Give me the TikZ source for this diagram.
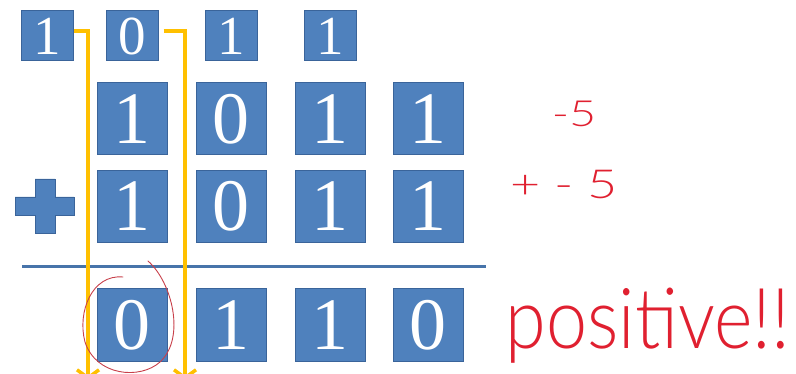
\documentclass[tikz,border=0pt]{standalone}
\usepackage{fontspec}
\setmainfont{Liberation Serif}
\newfontfamily\handfont{Lato Light}
\usetikzlibrary{arrows.meta}
\definecolor{bitblue}{HTML}{4F81BD}
\definecolor{bitedge}{HTML}{3A649A}
\definecolor{carry}{HTML}{FFC000}
\definecolor{ink}{HTML}{E02030}
\definecolor{circ}{HTML}{C8404A}
\tikzset{
  bit/.style={fill=bitblue, draw=bitedge, line width=1pt, text=white, inner sep=0pt,
    minimum width=70pt, minimum height=72pt, font=\fontsize{74}{74}\selectfont},
  smallbit/.style={bit, minimum width=52pt, minimum height=50pt, font=\fontsize{55}{55}\selectfont},
  carryline/.style={draw=carry, line width=3.5pt, -{Straight Barb[length=8pt,width=22pt]}},
  hand/.style={text=ink, font=\handfont\fontsize{36}{36}\selectfont, inner sep=0pt}
}
\begin{document}
\begin{tikzpicture}[x=1pt,y=-1pt]
\useasboundingbox (0,0) rectangle (796,374);
\clip (0,0) rectangle (796,374);
\fill[white] (0,0) rectangle (796,374);

% carry bits
\node[smallbit] (t1) at (47,36) {1};
\node[smallbit] (t2) at (132,36) {0};
\node[smallbit] (t3) at (231,36) {1};
\node[smallbit] (t4) at (330,36) {1};

% first operand
\node[bit] (a1) at (132,119) {1};
\node[bit] (a2) at (231,119) {0};
\node[bit] (a3) at (330,119) {1};
\node[bit] (a4) at (428,119) {1};

% second operand
\node[bit] (b1) at (132,206.5) {1};
\node[bit] (b2) at (231,206.5) {0};
\node[bit] (b3) at (330,206.5) {1};
\node[bit] (b4) at (428,206.5) {1};

% plus sign
\filldraw[fill=bitblue, draw=bitedge, line width=0.8pt]
  (35,179) -- (55,179) -- (55,197) -- (74,197) -- (74,215) -- (55,215) -- (55,233)
  -- (35,233) -- (35,215) -- (15,215) -- (15,197) -- (35,197) -- cycle;

% sum rule
\coordinate (rl) at (22,267);
\coordinate (rr) at (486,267);
\draw[draw=bitblue!90!black, line width=3pt] (rl) -- (rr);

% result
\node[bit, minimum height=73pt] (r1) at (132,325.5) {0};
\node[bit, minimum height=73pt] (r2) at (231,325.5) {1};
\node[bit, minimum height=73pt] (r3) at (330,325.5) {1};
\node[bit, minimum height=73pt] (r4) at (428,325.5) {0};

% carry paths out of the top column
\coordinate (e1) at (88,380);
\coordinate (e2) at (185,380);
\draw[carryline] ([yshift=5pt]t1.east) -| (e1);
\draw[carryline] ([xshift=5pt,yshift=5pt]t2.east) -| (e2);

% hand-drawn circle round the dropped bit
\draw[circ, line width=0.9pt, line cap=round]
  (148,261) .. controls (172,282) and (186,338) .. (160,362)
  .. controls (140,380) and (96,376) .. (85,342)
  .. controls (77,312) and (92,274) .. (123,277);

% handwritten notes
\node[hand, xscale=1.3] (n1) at (574,114) {-5};
\node[hand, xscale=1.3, font=\handfont\fontsize{40}{40}\selectfont] (n2) at (564,185) {+ - 5};
\node[hand, xscale=1.27, yscale=1.45, font=\handfont\fontsize{58}{58}\selectfont] (n3) at (648,326) {positive!!};
\end{tikzpicture}
\end{document}
